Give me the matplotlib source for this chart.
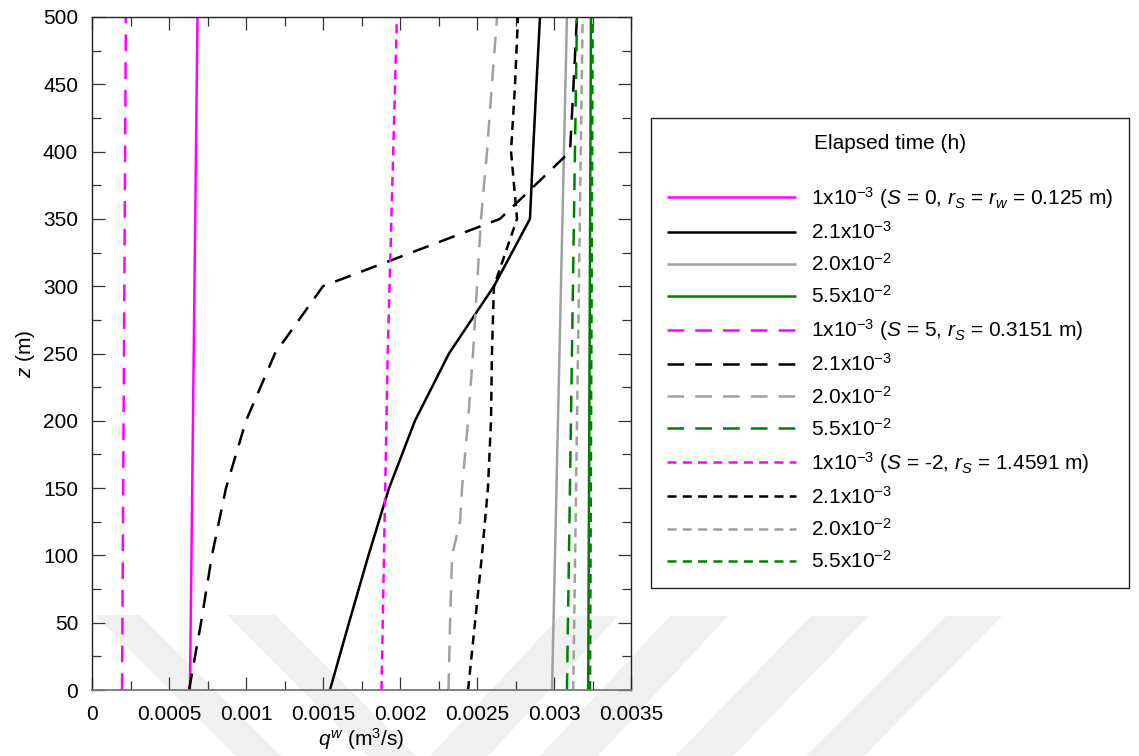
import matplotlib
matplotlib.use("Agg")
import matplotlib.pyplot as plt
from matplotlib.patches import Polygon
from matplotlib.ticker import MultipleLocator, FixedLocator, FixedFormatter

plt.rcParams['font.family'] = ['Liberation Sans', 'DejaVu Sans']
plt.rcParams['mathtext.fontset'] = 'custom'
plt.rcParams['mathtext.rm'] = 'Liberation Sans'
plt.rcParams['mathtext.it'] = 'Liberation Sans:italic'
plt.rcParams['mathtext.bf'] = 'Liberation Sans:bold'
plt.rcParams['lines.scale_dashes'] = False

# ---------------- data: well inflow rate q^w (m^3/s) versus depth z (m) ----------------
depth_full = [0, 50, 100, 150, 200, 250, 300, 350, 400, 450, 500]
depth_ends = [0, 500]

# skin S = 0 (rs = rw = 0.125 m)
q_s0_t1 = [0.000636, 0.000685]
q_s0_t2 = [0.001545, 0.001669, 0.001795, 0.001929, 0.002097, 0.002318,
           0.002610, 0.002844, 0.002864, 0.002886, 0.002909]
q_s0_t3 = [0.002987, 0.003084]
q_s0_t4 = [0.003222, 0.003240]

# skin S = 5 (rs = 0.3151 m)
q_s5_t1 = [0.000195, 0.000220]
q_s5_t2 = [0.000630, 0.000708, 0.000779, 0.000870, 0.001000, 0.001188,
           0.001500, 0.002649, 0.003104, 0.003127, 0.003149]
depth_s5_t3 = [0, 50, 100, 125, 150, 200, 250, 300, 350, 400, 450, 500]
q_s5_t3 = [0.002315, 0.002325, 0.002338, 0.002390, 0.002403, 0.002442,
           0.002474, 0.002500, 0.002526, 0.002565, 0.002597, 0.002630]
q_s5_t4 = [0.003084, 0.003149]

# skin S = -2 (rs = 1.4591 m)
depth_sm2_t1 = [0, 250, 500]
q_sm2_t1 = [0.001880, 0.001920, 0.001980]
q_sm2_t2 = [0.002442, 0.002487, 0.002532, 0.002571, 0.002591, 0.002597,
            0.002610, 0.002760, 0.002721, 0.002747, 0.002766]
q_sm2_t3 = [0.003125, 0.003186]
q_sm2_t4 = [0.003234, 0.003251]

time_labels = ['1x10$^{-3}$', '2.1x10$^{-3}$', '2.0x10$^{-2}$', '5.5x10$^{-2}$']
case_notes = [' ($S$ = 0, $r_S$ = $r_w$ = 0.125 m)',
              ' ($S$ = 5, $r_S$ = 0.3151 m)',
              ' ($S$ = -2, $r_S$ = 1.4591 m)']

x_ticks = [0, 0.0005, 0.001, 0.0015, 0.002, 0.0025, 0.003, 0.0035]
x_tick_labels = ['0', '0.0005', '0.001', '0.0015', '0.002', '0.0025', '0.003', '0.0035']
y_ticks = [0, 50, 100, 150, 200, 250, 300, 350, 400, 450, 500]

# ---------------- styling ----------------
time_colors = ['#ff00ff', '#000000', '#a0a0a0', '#008000']
dash_styles = [(0, ()), (0, (12, 8)), (0, (6.5, 4.5))]
lw = 1.8
fs = 15

W, H = 1139, 756
fig = plt.figure(figsize=(W / 100, H / 100), dpi=100)

# faint diagonal background bands (pixel coordinates, y downward)
bands = [
    [(95, 615), (140, 615), (281, 756), (236, 756)],
    [(227, 615), (275, 615), (416, 756), (368, 756)],
    [(560, 616), (618, 616), (488, 756), (430, 756)],
    [(670, 616), (728, 616), (598, 756), (540, 756)],
    [(811, 616), (869, 616), (733, 756), (675, 756)],
    [(946, 616), (1002, 616), (864, 756), (806, 756)],
]
for b in bands:
    pts = [(x / W, 1 - y / H) for x, y in b]
    fig.add_artist(Polygon(pts, closed=True, transform=fig.transFigure,
                           facecolor='#f0f0f0', edgecolor='none', zorder=-5))

ax = fig.add_axes([92 / W, 1 - 690 / H, (631 - 92) / W, (690 - 17) / H])
ax.set_facecolor('none')

series = [
    (depth_ends, q_s0_t1, 0, 0), (depth_full, q_s0_t2, 1, 0),
    (depth_ends, q_s0_t3, 2, 0), (depth_ends, q_s0_t4, 3, 0),
    (depth_ends, q_s5_t1, 0, 1), (depth_full, q_s5_t2, 1, 1),
    (depth_s5_t3, q_s5_t3, 2, 1), (depth_ends, q_s5_t4, 3, 1),
    (depth_sm2_t1, q_sm2_t1, 0, 2), (depth_full, q_sm2_t2, 1, 2),
    (depth_ends, q_sm2_t3, 2, 2), (depth_ends, q_sm2_t4, 3, 2),
]

handles = []
labels = []
for z, q, ti, ci in series:
    h, = ax.plot(q, z, color=time_colors[ti], linestyle=dash_styles[ci],
                 linewidth=lw, solid_capstyle='butt', dash_capstyle='butt')
    handles.append(h)
    labels.append(time_labels[ti] + (case_notes[ci] if ti == 0 else ''))

ax.set_xlim(0, 0.0035)
ax.set_ylim(0, 500)
ax.xaxis.set_major_locator(FixedLocator(x_ticks))
ax.xaxis.set_major_formatter(FixedFormatter(x_tick_labels))
ax.xaxis.set_minor_locator(MultipleLocator(0.00025))
ax.yaxis.set_major_locator(FixedLocator(y_ticks))
ax.yaxis.set_minor_locator(MultipleLocator(25))

ax.tick_params(which='both', direction='in', top=True, right=True,
               labelsize=fs, colors='#333333', labelcolor='black', width=0.9)
ax.tick_params(which='major', length=9.5)
ax.tick_params(which='minor', length=6.5)
ax.tick_params(axis='x', which='major', pad=11)
ax.tick_params(axis='y', which='major', pad=10)

for side in ['left', 'top', 'right']:
    ax.spines[side].set_color('#222222')
    ax.spines[side].set_linewidth(1.0)
ax.spines['bottom'].set_color('#777777')
ax.spines['bottom'].set_linewidth(1.3)

ax.set_xlabel('$q^w$ (m$^3$/s)', fontsize=fs, labelpad=1)
ax.set_ylabel('$z$ (m)', fontsize=fs, labelpad=4)

leg = fig.legend(handles, labels, loc='upper left',
                 bbox_to_anchor=(651 / W, 1 - 118 / H), borderaxespad=0,
                 title='Elapsed time (h)\n', title_fontsize=fs, fontsize=fs,
                 frameon=True, fancybox=False, framealpha=1,
                 edgecolor='#222222', borderpad=0.75, labelspacing=0.49,
                 handlelength=6.2, handletextpad=0.72)
leg.get_frame().set_linewidth(1.0)

fig.savefig('out.png', dpi=100)
